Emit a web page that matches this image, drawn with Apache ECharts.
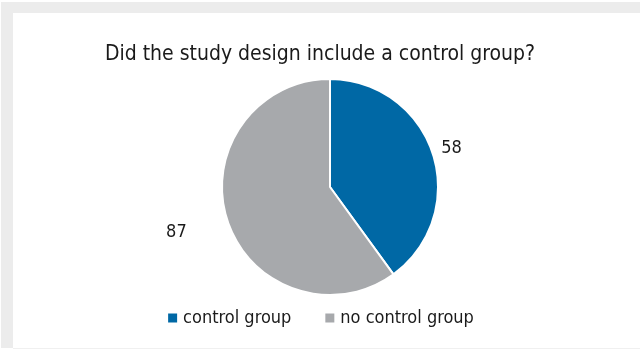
<!DOCTYPE html>
<html><head><meta charset="utf-8">
<script src="https://cdn.jsdelivr.net/npm/echarts@6/dist/echarts.min.js"></script>
<style>html,body{margin:0;padding:0;background:#fff}#c{width:640px;height:350px}</style>
</head><body><div id="c"></div>
<script>
var titleText = 'Did the study design include a control group?';
var categories = ['control group', 'no control group'];
var values = [58, 87];
var colors = ['#0068a5', '#a7a9ac'];

var chart = echarts.init(document.getElementById('c'), null, {renderer: 'canvas'});
var FONT = '"DejaVu Sans Condensed", sans-serif';
var labelShift = [{dx: -4, dy: -3}, {dx: -28, dy: 9}];
chart.setOption({
  animation: false,
  backgroundColor: '#fff',
  graphic: [
    {type: 'rect', shape: {x: 1, y: 2, width: 639, height: 11}, style: {fill: '#ececec'}, silent: true},
    {type: 'rect', shape: {x: 1, y: 2, width: 12, height: 346}, style: {fill: '#ececec'}, silent: true},
    {type: 'rect', shape: {x: 13, y: 348, width: 627, height: 1}, style: {fill: '#f0f0f0'}, silent: true}
  ],
  title: {
    text: titleText,
    left: 'center',
    top: 39,
    textStyle: {fontFamily: FONT, fontWeight: 'normal', fontSize: 21, color: '#1a1a1a'}
  },
  legend: {
    data: categories,
    bottom: 18,
    left: 'center',
    icon: 'rect',
    itemWidth: 11,
    itemHeight: 11,
    itemGap: 32,
    textStyle: {fontFamily: FONT, fontSize: 18, color: '#1a1a1a'}
  },
  series: [{
    type: 'pie',
    center: [330, 187],
    radius: 108,
    startAngle: 90,
    clockwise: true,
    data: categories.map(function (c, i) {
      return {name: c, value: values[i], itemStyle: {color: colors[i]}};
    }),
    itemStyle: {borderColor: '#fff', borderWidth: 2},
    label: {
      show: true,
      position: 'outside',
      formatter: '{c}',
      fontFamily: FONT,
      fontSize: 18,
      color: '#1a1a1a'
    },
    labelLine: {show: false, length: 8, length2: 0},
    labelLayout: function (p) { return labelShift[p.dataIndex]; }
  }]
});
</script></body></html>
